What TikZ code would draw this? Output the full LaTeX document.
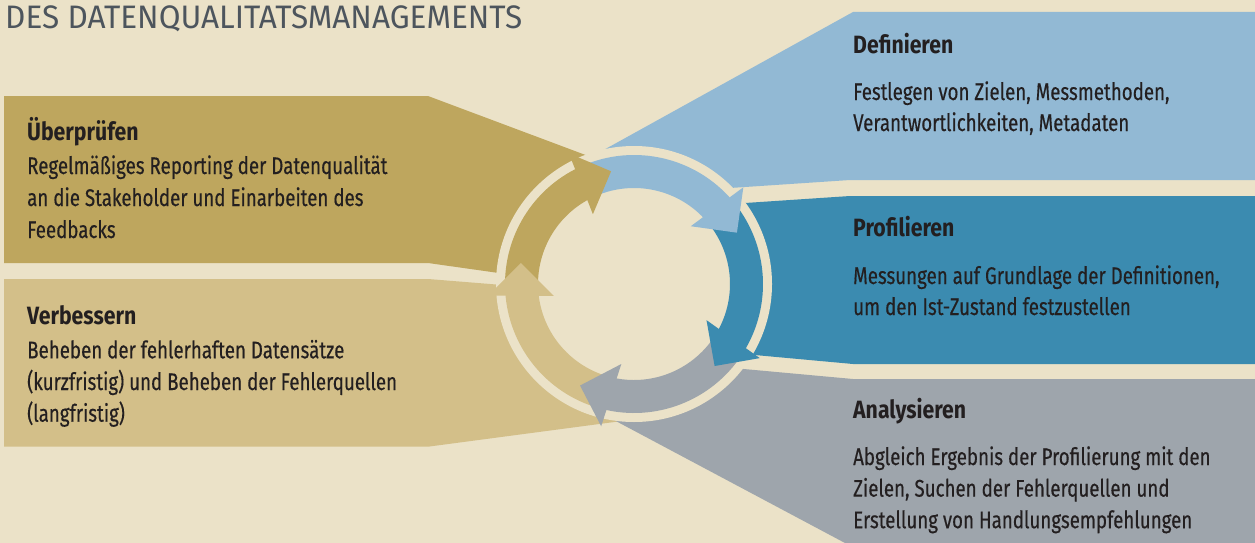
\documentclass[tikz,border=0pt]{standalone}
\usepackage{fontspec}
\setmainfont{Fira Sans}[FakeStretch=0.78, FakeBold=0.4]
\newfontfamily\headfont{Fira Sans}[FakeStretch=0.85]
\newfontfamily\titlefont{Fira Sans}[FakeStretch=0.97]

\definecolor{cream}{RGB}{235,226,200}
\definecolor{gold}{RGB}{190,166,94}
\definecolor{sand}{RGB}{211,191,137}
\definecolor{lblue}{RGB}{146,185,212}
\definecolor{dblue}{RGB}{59,139,176}
\definecolor{slate}{RGB}{158,165,172}
\definecolor{ink}{RGB}{35,31,32}
\definecolor{titlegrey}{RGB}{77,85,93}

\tikzset{
  title/.style={anchor=base west, inner sep=0, text=titlegrey, font=\titlefont\fontsize{32.5}{36}\selectfont},
  head/.style={anchor=base west, inner sep=0, text=ink, font=\headfont\bfseries\fontsize{25}{30}\selectfont},
  body/.style={anchor=base west, inner sep=0, text=ink, font=\fontsize{24}{30}\selectfont},
}

\begin{document}
\begin{tikzpicture}[x=1pt,y=-1pt]
  \fill[cream] (0,0) rectangle (1255,543);
  \useasboundingbox (0,0) rectangle (1255,543);

  % panels, the inner ends are hidden under the disc
  \fill[gold]  (4,96) -- (428,96) -- (600,160.4) -- (634,284) -- (520,276) -- (428,263) -- (4,263) -- cycle;
  \fill[sand]  (4,279) -- (428,279) -- (520,286.4) -- (634,284) -- (640,418.6) -- (428,446.7) -- (4,446.7) -- cycle;
  \fill[lblue] (853,12) -- (1255,12) -- (1255,180) -- (850,180) -- (700,190) -- (634,284) -- (600,152) -- cycle;
  \fill[dblue] (1255,196) -- (850,196) -- (700,206) -- (634,284) -- (700,350) -- (853,364) -- (1255,364) -- cycle;
  \fill[slate] (1255,379) -- (853,379) -- (700,365) -- (634,284) -- (600,412.6) -- (845,543) -- (1255,543) -- cycle;

  \fill[cream] (634,284) circle[radius=138];

  % cycle of arrows: colour / tail angle / tip angle
  \def\cyclearrows{gold/181.5/101.5, lblue/113.5/26.5, dblue/38.5/-45.5, slate/-33.5/-118, sand/-106/-190.5}
  \begin{scope}[shift={(634,284)}, yscale=-1]
    \foreach \c/\s/\t in \cyclearrows
    { \fill[\c] (\s:129) arc[start angle=\s, end angle=\t+14, radius=129]
        -- ({\t+14}:96) arc[start angle=\t+14, end angle=\s, radius=96] -- cycle;
    }
    \foreach \c/\s/\t in \cyclearrows
    { \fill[\c] ({\t+15}:146) -- (\t:115) -- ({\t+19}:81) -- cycle;
    }
  \end{scope}

  \node[title] (title) at (5,28.3) {DES DATENQUALITATSMANAGEMENTS};

  \node[head] (ueb) at (27,140.7) {Überprüfen};
  \foreach \t [count=\i] in {Regelmäßiges Reporting der Datenqualität, an die Stakeholder und Einarbeiten des, Feedbacks}
    \node[body] (ueb-\i) at (27,{174+32*(\i-1)}) {\t};

  \node[head] (verb) at (27,324) {Verbessern};
  \foreach \t [count=\i] in {Beheben der fehlerhaften Datensätze, (kurzfristig) und Beheben der Fehlerquellen, (langfristig)}
    \node[body] (verb-\i) at (27,{358.3+31.7*(\i-1)}) {\t};

  \node[head] (def) at (853,53.3) {Definieren};
  \foreach \t [count=\i] in {{Festlegen von Zielen, Messmethoden,}, {Verantwortlichkeiten, Metadaten}}
    \node[body] (def-\i) at (853,{100+31*(\i-1)}) {\t};

  \node[head] (prof) at (853,236.7) {Profilieren};
  \foreach \t [count=\i] in {{Messungen auf Grundlage der Definitionen,}, um den Ist-Zustand festzustellen}
    \node[body] (prof-\i) at (853,{284+31*(\i-1)}) {\t};

  \node[head] (ana) at (853,418.3) {Analysieren};
  \foreach \t [count=\i] in {Abgleich Ergebnis der Profilierung mit den, {Zielen, Suchen der Fehlerquellen und}, Erstellung von Handlungsempfehlungen}
    \node[body] (ana-\i) at (853,{465+31.6*(\i-1)}) {\t};
\end{tikzpicture}
\end{document}
